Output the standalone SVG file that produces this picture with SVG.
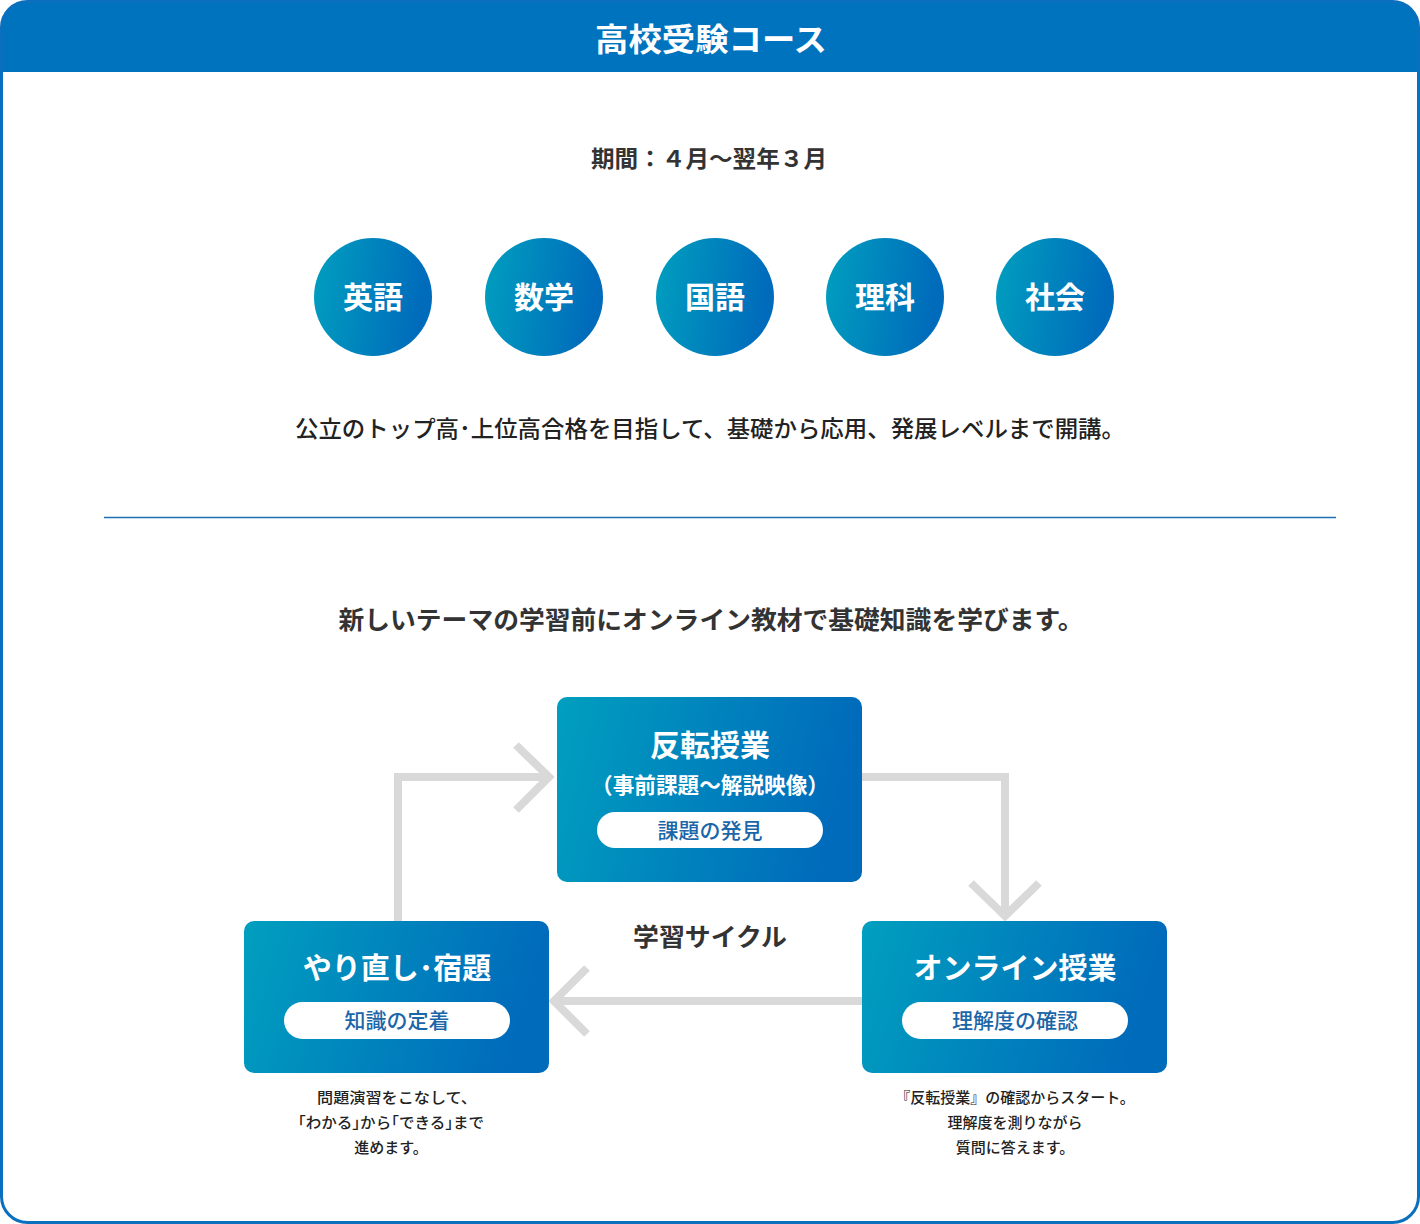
<svg xmlns="http://www.w3.org/2000/svg" width="1420" height="1224" viewBox="0 0 1420 1224">
<defs>
<linearGradient id="g" x1="0" y1="0" x2="1" y2="0.15">
<stop offset="0" stop-color="#009fbf"/>
<stop offset="1" stop-color="#006abb"/>
</linearGradient>
<clipPath id="frameClip"><rect x="1.5" y="1.5" width="1417" height="1221" rx="26"/></clipPath>
</defs>
<style>
text{font-family:"Noto Sans CJK JP","Noto Sans",sans-serif;text-anchor:middle}
.w{fill:#fff;font-weight:bold}
.d{fill:#333;font-weight:bold}
.n{fill:#222;font-weight:500}
.pill{fill:#fff}
.pt{fill:#1b66a8;font-weight:500;font-size:21px}
.con{fill:none;stroke:#d9d9d9;stroke-width:8}
.box{fill:url(#g)}
</style>
<rect x="0" y="0" width="1420" height="1224" fill="#fff"/>
<g clip-path="url(#frameClip)">
<rect x="0" y="0" width="1420" height="72" fill="#0073bf"/>
</g>
<rect x="1.5" y="1.5" width="1417" height="1221" rx="26" fill="none" stroke="#0a70bd" stroke-width="3"/>
<text x="711" y="51" class="w" font-size="32" textLength="232" lengthAdjust="spacingAndGlyphs">高校受験コース</text>
<text x="709" y="167" class="d" font-size="23" textLength="236" lengthAdjust="spacingAndGlyphs">期間：４月〜翌年３月</text>
<g id="subjects">
<g id="s1"><circle cx="373" cy="297" r="59" fill="url(#g)"/><text x="373" y="308" class="w" font-size="30">英語</text></g>
<g id="s2"><circle cx="544" cy="297" r="59" fill="url(#g)"/><text x="544" y="308" class="w" font-size="30">数学</text></g>
<g id="s3"><circle cx="715" cy="297" r="59" fill="url(#g)"/><text x="715" y="308" class="w" font-size="30">国語</text></g>
<g id="s4"><circle cx="885" cy="297" r="59" fill="url(#g)"/><text x="885" y="308" class="w" font-size="30">理科</text></g>
<g id="s5"><circle cx="1055" cy="297" r="59" fill="url(#g)"/><text x="1055" y="308" class="w" font-size="30">社会</text></g>
</g>
<text x="710" y="437" class="n" font-size="23" textLength="830" lengthAdjust="spacingAndGlyphs">公立のトップ高･上位高合格を目指して、基礎から応用、発展レベルまで開講。</text>
<line x1="104" y1="517.5" x2="1336" y2="517.5" stroke="#1f6fb2" stroke-width="1.5"/>
<text x="711" y="629" class="d" font-size="25" textLength="745" lengthAdjust="spacingAndGlyphs">新しいテーマの学習前にオンライン教材で基礎知識を学びます。</text>
<g id="connectors">
<polyline class="con" points="398,921 398,777 550,777"/>
<polyline class="con" points="516,745 549,777 516,810"/>
<polyline class="con" points="862,777 1005,777 1005,915"/>
<polyline class="con" points="971,883 1005,916 1039,883"/>
<polyline class="con" points="862,1001 554,1001"/>
<polyline class="con" points="587,968 554,1001 587,1034"/>
</g>
<g id="n1">
<rect class="box" x="557" y="697" width="305" height="185" rx="10"/>
<text x="710" y="756" class="w" font-size="30">反転授業</text>
<text x="710" y="793" class="w" font-size="22" textLength="238" lengthAdjust="spacingAndGlyphs">（事前課題〜解説映像）</text>
<rect class="pill" x="597" y="812" width="226" height="36" rx="18"/>
<text x="710" y="838" class="pt">課題の発見</text>
</g>
<g id="n2">
<rect class="box" x="244" y="921" width="305" height="152" rx="10"/>
<text x="397" y="979" class="w" font-size="29">やり直し･宿題</text>
<rect class="pill" x="284" y="1002" width="226" height="37" rx="18.5"/>
<text x="397" y="1028" class="pt">知識の定着</text>
</g>
<g id="n3">
<rect class="box" x="862" y="921" width="305" height="152" rx="10"/>
<text x="1015" y="979" class="w" font-size="29">オンライン授業</text>
<rect class="pill" x="902" y="1002" width="226" height="37" rx="18.5"/>
<text x="1015" y="1028" class="pt">理解度の確認</text>
</g>
<text x="710" y="946" class="d" font-size="25" textLength="154" lengthAdjust="spacingAndGlyphs">学習サイクル</text>
<g font-size="15" class="n">
<text x="397" y="1103" class="n" textLength="160" lengthAdjust="spacingAndGlyphs">問題演習をこなして、</text>
<text x="391" y="1128" class="n" textLength="186" lengthAdjust="spacingAndGlyphs">｢わかる｣から｢できる｣まで</text>
<text x="391" y="1153" class="n">進めます。</text>
<text x="1015" y="1103" class="n">『反転授業』の確認からスタート。</text>
<text x="1015" y="1128" class="n">理解度を測りながら</text>
<text x="1015" y="1153" class="n">質問に答えます。</text>
</g>
</svg>
